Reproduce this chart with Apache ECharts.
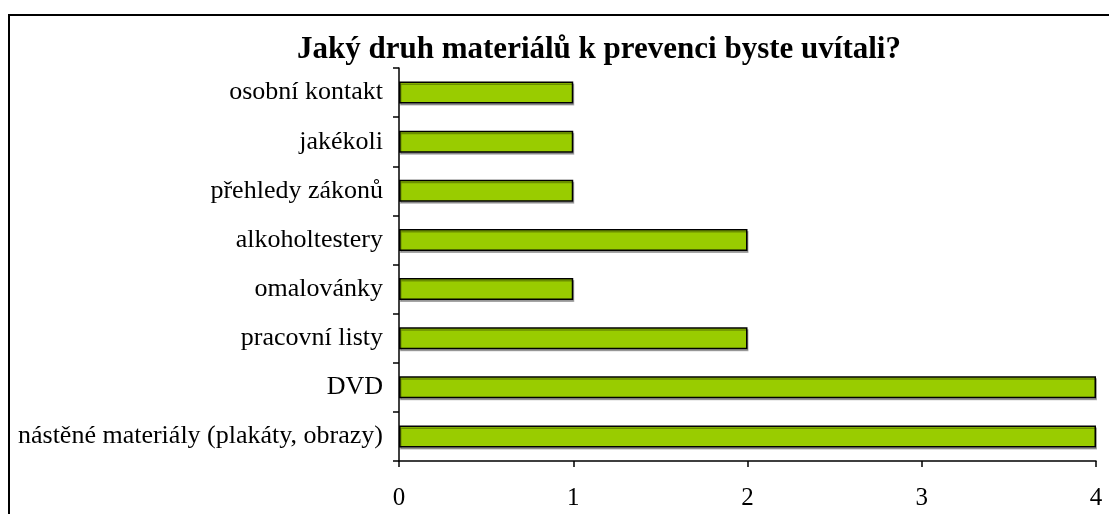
<!DOCTYPE html>
<html>
<head>
<meta charset="utf-8">
<script src="https://cdn.jsdelivr.net/npm/echarts@6/dist/echarts.min.js"></script>
<style>
  html, body { margin: 0; padding: 0; background: #fff; }
  #chart { width: 1109px; height: 514px; }
</style>
</head>
<body>
<div id="chart"></div>
<script>
// kategorie shora dolů
const categories = [
  'osobní kontakt',
  'jakékoli',
  'přehledy zákonů',
  'alkoholtestery',
  'omalovánky',
  'pracovní listy',
  'DVD',
  'nástěné materiály (plakáty, obrazy)'
]
const counts = [1, 1, 1, 2, 1, 2, 4, 4]
const titleText = 'Jaký druh materiálů k prevenci byste uvítali?'

const chart = echarts.init(document.getElementById('chart'))

chart.setOption({
  animation: false,
  backgroundColor: '#fff',
  textStyle: { fontFamily: '"Liberation Serif", "Times New Roman", serif', color: '#000' },
  title: {
    text: titleText,
    left: 292,
    top: 29,
    textStyle: {
      fontFamily: '"Liberation Serif", "Times New Roman", serif',
      fontWeight: 'bold',
      fontSize: 31,
      color: '#000'
    }
  },
  // rámeček kolem celého grafu
  graphic: [
    {
      type: 'rect',
      z: -1,
      silent: true,
      shape: { x: 9, y: 15, width: 1200, height: 600 },
      style: { fill: 'none', stroke: '#000', lineWidth: 2 }
    }
  ],
  grid: {
    left: 399,
    right: 13,
    top: 68,
    bottom: 53
  },
  xAxis: {
    type: 'value',
    min: 0,
    max: 4,
    interval: 1,
    axisLine: { show: true, lineStyle: { color: '#000', width: 1.5 } },
    axisTick: { show: true, length: 6, lineStyle: { color: '#000', width: 1.5 } },
    splitLine: { show: false },
    axisLabel: {
      margin: 25,
      fontSize: 25,
      color: '#000',
      fontFamily: '"Liberation Serif", "Times New Roman", serif'
    }
  },
  yAxis: {
    type: 'category',
    data: categories,
    inverse: true,
    axisLine: { show: true, lineStyle: { color: '#000', width: 1.5 } },
    axisTick: { show: true, length: 6, lineStyle: { color: '#000', width: 1.5 } },
    axisLabel: {
      margin: 16,
      fontSize: 26,
      color: '#000',
      fontFamily: '"Liberation Serif", "Times New Roman", serif'
    }
  },
  series: [
    {
      type: 'bar',
      data: counts,
      barWidth: 22,
      itemStyle: {
        color: '#99cc00',
        borderColor: '#000',
        borderWidth: 1.5,
        shadowColor: 'rgba(0,0,0,0.3)',
        shadowOffsetX: 1,
        shadowOffsetY: 2
      }
    }
  ]
})
</script>
</body>
</html>
